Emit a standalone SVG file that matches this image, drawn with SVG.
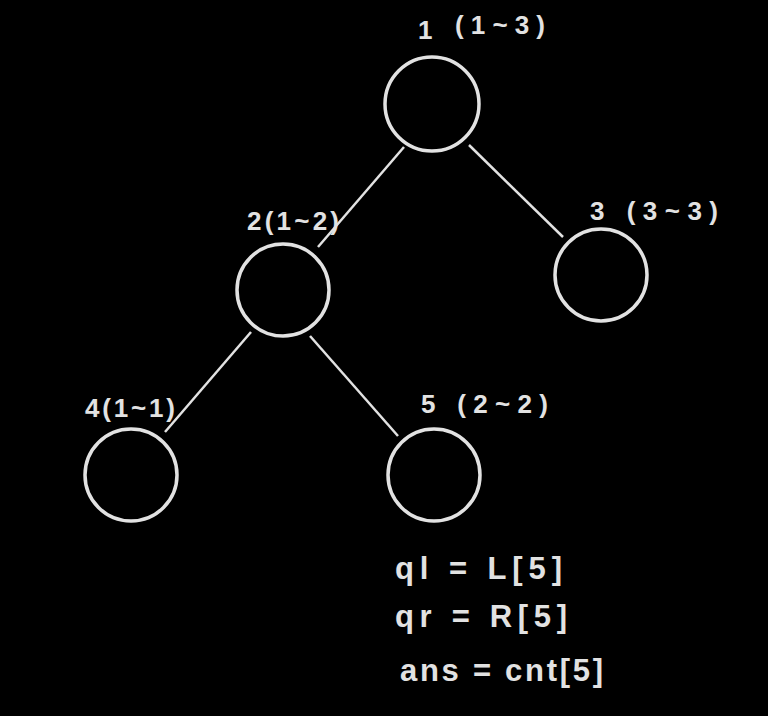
<svg xmlns="http://www.w3.org/2000/svg" width="768" height="716" viewBox="0 0 768 716">
<style>
.n{fill:none;stroke:#e2e2e2;stroke-width:3.5}
.e{stroke:#e2e2e2;stroke-width:2.5}
.t{fill:#e2e2e2;font-family:"Liberation Sans",Arial,sans-serif;font-weight:bold;font-size:26px}
.m{font-size:31px}
</style>
<rect width="768" height="716" fill="#000"/>
<g id="edges">
<line class="e" x1="404" y1="147" x2="318" y2="247"/>
<line class="e" x1="469" y1="145" x2="563" y2="237"/>
<line class="e" x1="251" y1="332" x2="165" y2="432"/>
<line class="e" x1="310" y1="336" x2="398" y2="436"/>
</g>
<g id="node1"><circle class="n" cx="432" cy="104" r="47"/><text class="t" x="418" y="39">1</text><text class="t" x="455" y="34" textLength="90" lengthAdjust="spacing">(1~3)</text></g>
<g id="node2"><circle class="n" cx="283" cy="290" r="46"/><text class="t" x="247" y="230" textLength="92" lengthAdjust="spacing">2(1~2)</text></g>
<g id="node3"><circle class="n" cx="601" cy="275" r="46"/><text class="t" x="590" y="220" textLength="128" lengthAdjust="spacing">3 (3~3)</text></g>
<g id="node4"><circle class="n" cx="131" cy="475" r="46"/><text class="t" x="85" y="417" textLength="90" lengthAdjust="spacing">4(1~1)</text></g>
<g id="node5"><circle class="n" cx="434" cy="475" r="46"/><text class="t" x="421" y="413" textLength="127" lengthAdjust="spacing">5 (2~2)</text></g>
<g id="notes">
<text class="t m" x="395" y="579" textLength="167" lengthAdjust="spacing">ql = L[5]</text>
<text class="t m" x="395" y="627" textLength="172" lengthAdjust="spacing">qr = R[5]</text>
<text class="t m" x="400" y="681" textLength="203" lengthAdjust="spacing">ans = cnt[5]</text>
</g>
</svg>
